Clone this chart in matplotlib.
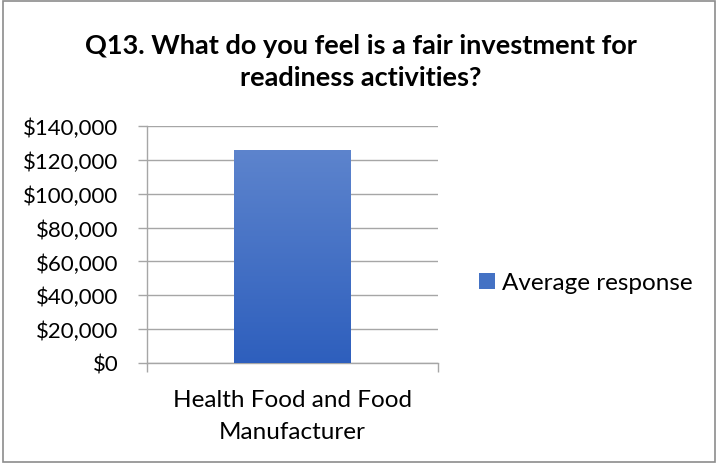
import matplotlib
matplotlib.use("Agg")
import matplotlib.pyplot as plt
import numpy as np
from matplotlib.ticker import FuncFormatter, FixedLocator
from matplotlib.patches import Rectangle
from matplotlib.colors import LinearSegmentedColormap

categories = ["Health Food and Food\nManufacturer"]
values = [126000]
series_name = "Average response"
title = "Q13. What do you feel is a fair investment for\nreadiness activities?"

plt.rcParams['font.family'] = ['Lato', 'DejaVu Sans']

fig = plt.figure(figsize=(7.18, 4.64), dpi=100)
ax = fig.add_axes([147/718, 100/464, 291/718, 237/464])

x = np.arange(len(categories))
bars = ax.bar(x, values, width=0.4, color="#4472C4", label=series_name, zorder=3)

# gradient fill
grad = np.linspace(0, 1, 256).reshape(-1, 1)
cmap = LinearSegmentedColormap.from_list("g", ["#2E5FBD", "#5D84CD"])
for b in bars:
    bx, by = b.get_x(), b.get_y()
    w, h = b.get_width(), b.get_height()
    im = ax.imshow(grad, cmap=cmap, extent=[bx, bx + w, by, by + h], origin="lower",
                   aspect="auto", zorder=4)
    im.set_clip_path(b)

ax.set_xlim(-0.5, len(categories) - 0.5)
ax.set_ylim(0, 140000)
ax.yaxis.set_major_locator(FixedLocator(np.arange(0, 140001, 20000)))
ax.yaxis.set_major_formatter(FuncFormatter(lambda v, p: f"${int(v):,}"))
ax.grid(axis="y", color="#A6A6A6", linewidth=1, zorder=0)

ax.set_xticks(x)
ax.set_xticklabels(categories, fontsize=17.5, linespacing=1.6)
ax.set_xticks(np.arange(-0.5, len(categories)), minor=True)
ax.tick_params(axis="x", which="major", length=0, pad=19)
ax.tick_params(axis="x", which="minor", length=6.5, color="#A6A6A6", width=1)
ax.tick_params(axis="y", length=6.5, color="#A6A6A6", width=1, labelsize=16, pad=14)

for s in ["top", "right"]:
    ax.spines[s].set_visible(False)
for s in ["left", "bottom"]:
    ax.spines[s].set_color("#A6A6A6")
    ax.spines[s].set_linewidth(1)

fig.text(361/718, 1 - 62/464, title, ha="center", va="center", fontsize=19.5,
         fontweight="bold", linespacing=1.38)

leg = fig.legend(handles=[bars], labels=[series_name], loc="center left",
                 bbox_to_anchor=(457/718, 1 - 284/464), frameon=False, fontsize=17.5,
                 handlelength=0.65, handleheight=0.65, handletextpad=0.3)

fig.patches.append(Rectangle((3/718, 1/464), 712/718, 461/464, transform=fig.transFigure,
                             fill=False, edgecolor="#8C8C8C", linewidth=1.2))

fig.savefig("out.png", dpi=100)
